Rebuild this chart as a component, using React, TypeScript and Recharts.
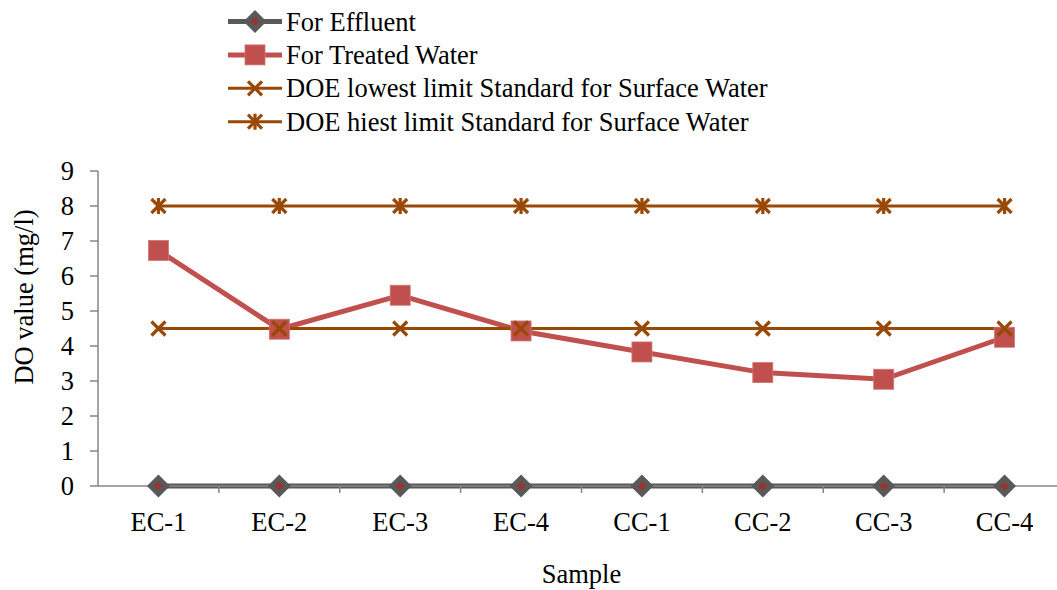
import { Label, Legend, Line, LineChart, XAxis, YAxis } from "recharts";

const FONT = '"Liberation Serif", "Times New Roman", serif';
const FONT_SIZE = 26.5;
const AXIS = "#868686";

const CATEGORIES = ["EC-1", "EC-2", "EC-3", "EC-4", "CC-1", "CC-2", "CC-3", "CC-4"];
const EFFLUENT = [0, 0, 0, 0, 0, 0, 0, 0];
const TREATED = [6.73, 4.48, 5.45, 4.43, 3.83, 3.24, 3.05, 4.25];
const DOE_LOW = [4.5, 4.5, 4.5, 4.5, 4.5, 4.5, 4.5, 4.5];
const DOE_HIGH = [8, 8, 8, 8, 8, 8, 8, 8];
const Y_TICKS = [0, 1, 2, 3, 4, 5, 6, 7, 8, 9];

const CHART_W = 1065;
const CHART_H = 590;
const Y_AXIS_W = 98;
const BAND = (CHART_W - Y_AXIS_W) / CATEGORIES.length;

type Marker = "diamond" | "square" | "x" | "star";

const SERIES: { key: string; name: string; color: string; width: number; marker: Marker }[] = [
  { key: "effluent", name: "For Effluent", color: "#595959", width: 5, marker: "diamond" },
  { key: "treated", name: "For Treated Water", color: "#C0504D", width: 5, marker: "square" },
  { key: "low", name: "DOE lowest limit Standard for Surface Water", color: "#984807", width: 3, marker: "x" },
  { key: "high", name: "DOE hiest limit Standard for Surface Water", color: "#984807", width: 3, marker: "star" },
];

const data = CATEGORIES.map((sample, i) => ({
  sample,
  effluent: EFFLUENT[i],
  treated: TREATED[i],
  low: DOE_LOW[i],
  high: DOE_HIGH[i],
}));

// Excel-style markers, shared by the lines and the legend.
function drawMarker(kind: Marker, cx: number, cy: number, color: string, key?: string | number) {
  if (kind === "diamond") {
    return (
      <g key={key}>
        <path d={`M${cx},${cy - 11.5}L${cx + 11.5},${cy}L${cx},${cy + 11.5}L${cx - 11.5},${cy}Z`} fill={color} />
        <path d={`M${cx},${cy - 4.5}L${cx + 4.5},${cy}L${cx},${cy + 4.5}L${cx - 4.5},${cy}Z`} fill="#943634" />
      </g>
    );
  }
  if (kind === "square") {
    return <rect key={key} x={cx - 10} y={cy - 10} width={20} height={20} fill={color} stroke="#CF7572" strokeWidth={0.8} />;
  }
  const s = 7;
  return (
    <g key={key} stroke={color} strokeWidth={3.2}>
      <line x1={cx - s} y1={cy - s} x2={cx + s} y2={cy + s} />
      <line x1={cx - s} y1={cy + s} x2={cx + s} y2={cy - s} />
      {kind === "star" && <line x1={cx} y1={cy - s - 1} x2={cx} y2={cy + s + 1} />}
    </g>
  );
}

function SampleTick({ x, y, payload, index }: any) {
  const left = x - BAND / 2;
  const right = x + BAND / 2;
  return (
    <g>
      {index > 0 && <line x1={left} x2={left} y1={y} y2={y + 7} stroke={AXIS} strokeWidth={1.5} />}
      {index === CATEGORIES.length - 1 && (
        <line x1={right} x2={right} y1={y} y2={y + 7} stroke={AXIS} strokeWidth={1.5} />
      )}
      <text x={x} y={y + 45} textAnchor="middle" fontSize={FONT_SIZE} fontFamily={FONT} fill="#000">
        {payload.value}
      </text>
    </g>
  );
}

function LegendBox() {
  return (
    <svg width={580} height={140}>
      {SERIES.map((s, i) => {
        const cy = 21.5 + i * 33.4;
        return (
          <g key={s.key}>
            <line x1={8} x2={62} y1={cy} y2={cy} stroke={s.color} strokeWidth={s.width} />
            {drawMarker(s.marker, 35, cy, s.color)}
            <text x={66} y={cy + 9} fontSize={FONT_SIZE} fontFamily={FONT} fill="#000">
              {s.name}
            </text>
          </g>
        );
      })}
    </svg>
  );
}

export default function App() {
  return (
    <div style={{ position: "fixed", left: 0, top: 0, width: 1057, height: 590, overflow: "hidden", background: "#fff" }}>
      <LineChart width={CHART_W} height={CHART_H} data={data} margin={{ top: 171, right: 0, bottom: 0, left: 0 }}>
        <XAxis
          dataKey="sample"
          height={104}
          interval={0}
          padding={{ left: BAND / 2, right: BAND / 2 }}
          tickLine={false}
          tickSize={0}
          tickMargin={0}
          axisLine={{ stroke: AXIS, strokeWidth: 1.5 }}
          tick={<SampleTick />}
        >
          <Label value="Sample" position="insideBottom" offset={7} fontSize={FONT_SIZE} fontFamily={FONT} fill="#000" />
        </XAxis>
        <YAxis
          width={Y_AXIS_W}
          domain={[0, 9]}
          ticks={Y_TICKS}
          interval={0}
          tickSize={8}
          tickMargin={16}
          axisLine={{ stroke: AXIS, strokeWidth: 1.5 }}
          tickLine={{ stroke: AXIS, strokeWidth: 1.5 }}
          tick={{ fill: "#000", fontSize: FONT_SIZE, fontFamily: FONT }}
        >
          <Label
            content={({ viewBox }: any) => (
              <text
                x={viewBox.x + 33}
                y={viewBox.y + 126}
                transform={`rotate(-90, ${viewBox.x + 33}, ${viewBox.y + 126})`}
                textAnchor="middle"
                fontSize={FONT_SIZE}
                fontFamily={FONT}
                fill="#000"
              >
                DO value (mg/l)
              </text>
            )}
          />
        </YAxis>
        <Legend
          layout="vertical"
          align="center"
          verticalAlign="middle"
          content={<LegendBox />}
          wrapperStyle={{ top: 0, left: 220, width: 580, height: 140 }}
        />
        {SERIES.map((s) => (
          <Line
            key={s.key}
            type="linear"
            dataKey={s.key}
            name={s.name}
            stroke={s.color}
            strokeWidth={s.width}
            dot={(p: any) => drawMarker(s.marker, p.cx, p.cy, s.color, `${s.key}-${p.index}`)}
            activeDot={false}
            isAnimationActive={false}
          />
        ))}
      </LineChart>
    </div>
  );
}
